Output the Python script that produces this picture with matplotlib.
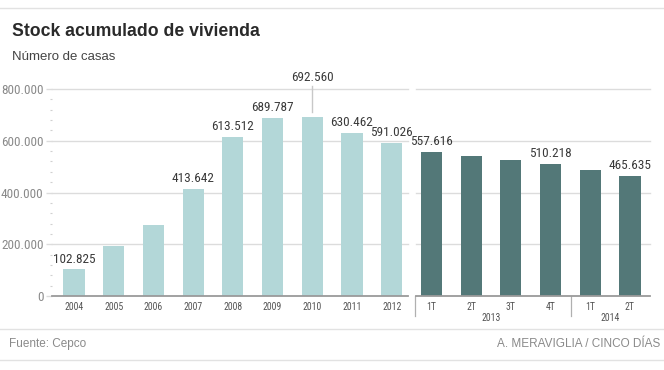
import matplotlib
matplotlib.use("Agg")
import matplotlib.pyplot as plt
from matplotlib.ticker import FuncFormatter, MultipleLocator
from matplotlib import font_manager

categories = ["2004", "2005", "2006", "2007", "2008", "2009", "2010", "2011", "2012",
              "1T", "2T", "3T", "4T", "1T", "2T"]
values = [102825, 194000, 274000, 413642, 613512, 689787, 692560, 630462, 591026,
          557616, 542500, 525000, 510218, 486000, 465635]
labels = ["102.825", None, None, "413.642", "613.512", "689.787", "692.560", "630.462", "591.026",
          "557.616", None, None, "510.218", None, "465.635"]
group_labels = ["2013", "2014"]
yticks = [0, 200000, 400000, 600000, 800000]

avail = {f.name for f in font_manager.fontManager.ttflist}
narrow = [n for n in ["Liberation Sans Narrow", "Roboto Condensed", "Open Sans Condensed",
                      "DejaVu Sans Condensed"] if n in avail]
NARROW = narrow[:1] + ["Liberation Sans", "DejaVu Sans"]
SANS = ["Liberation Sans", "DejaVu Sans"]
is_narrow = bool(narrow)
vfs = 9.5 if is_narrow else 8.6

W, H = 664, 370
fig = plt.figure(figsize=(W / 100, H / 100), dpi=100)
fig.patch.set_facecolor("white")

def fx(px):
    return px / W

def fy(py):
    return 1 - py / H

ax = fig.add_axes([fx(52), fy(296), fx(650) - fx(52), fy(89) - fy(296)])
n_years = 9
x = list(range(len(categories)))
colors = ["#b3d7d8"] * n_years + ["#537878"] * (len(categories) - n_years)
ax.bar(x, values, width=0.53, color=colors, zorder=3)

xmin, xmax = -0.554, 14.504
ax.set_xlim(xmin, xmax)
ax.set_ylim(0, 800000)

grid_c = "#dcdcdc"
split_l, split_r = 8.41, 8.61
for t in yticks[1:]:
    ax.plot([xmin, split_l], [t, t], color=grid_c, lw=1.0, zorder=1, clip_on=False)
    ax.plot([split_r, xmax], [t, t], color=grid_c, lw=1.0, zorder=1, clip_on=False)
# baseline
ax.plot([xmin, split_l], [0, 0], color="#9a9a9a", lw=1.3, zorder=4, clip_on=False)
ax.plot([split_r, xmax], [0, 0], color="#9a9a9a", lw=1.3, zorder=4, clip_on=False)

for s in ax.spines.values():
    s.set_visible(False)

ax.set_yticks(yticks)
ax.yaxis.set_major_formatter(FuncFormatter(lambda v, p: f"{int(v):,}".replace(",", ".")))
ax.yaxis.set_minor_locator(MultipleLocator(40000))
ax.tick_params(axis="y", which="major", length=4, color=grid_c, width=1.0, pad=2,
               labelsize=9.5, labelcolor="#8a8a8a")
ax.tick_params(axis="y", which="minor", length=1.5, color="#d0d0d0", width=0.8)
for lab in ax.get_yticklabels():
    lab.set_family(NARROW)

ax.set_xticks(x)
ax.set_xticklabels(categories)
ax.tick_params(axis="x", length=0, pad=4, labelsize=7, labelcolor="#555555")
for lab in ax.get_xticklabels():
    lab.set_family(NARROW)

# value labels
for xi, v, lab in zip(x, values, labels):
    if lab is None:
        continue
    if lab == "692.560":
        ax.text(xi, 818000, lab, ha="center", va="bottom", fontsize=vfs,
                color="#3a3a3a", family=NARROW, clip_on=False)
        ax.plot([xi, xi], [v + 20000, 812000], color="#c8c8c8", lw=1.0, clip_on=False)
    else:
        ax.text(xi, v + 15000, lab, ha="center", va="bottom", fontsize=vfs,
                color="#3a3a3a", family=NARROW)

# group separators and labels
trans = ax.get_xaxis_transform()
for sx in [8.59, 12.52]:
    ax.plot([sx, sx], [0, -0.097], color="#b0b0b0", lw=0.9, transform=trans, clip_on=False)
ax.text(10.5, -0.108, group_labels[0], ha="center", va="center", fontsize=7,
        color="#555555", family=NARROW, transform=trans)
ax.text(13.5, -0.108, group_labels[1], ha="center", va="center", fontsize=7,
        color="#555555", family=NARROW, transform=trans)

# title and footer
fig.text(fx(12), fy(32), "Stock acumulado de vivienda", ha="left", va="center",
         fontsize=12.7, fontweight="bold", color="#2a2a2a", family=SANS)
fig.text(fx(12), fy(57), "Número de casas", ha="left", va="center",
         fontsize=9.5, color="#444444", family=SANS)
fig.text(fx(9), fy(344), "Fuente: Cepco", ha="left", va="center",
         fontsize=8.5, color="#8a8a8a", family=SANS)
fig.text(fx(660), fy(344), "A. MERAVIGLIA / CINCO DÍAS", ha="right", va="center",
         fontsize=8.5, color="#8a8a8a", family=SANS)

for yy in [8, 329, 360]:
    fig.add_artist(plt.Line2D([0, 1], [fy(yy), fy(yy)], color="#e2e2e2", lw=1.0,
                              transform=fig.transFigure))

fig.savefig("out.png", dpi=100, facecolor="white")
